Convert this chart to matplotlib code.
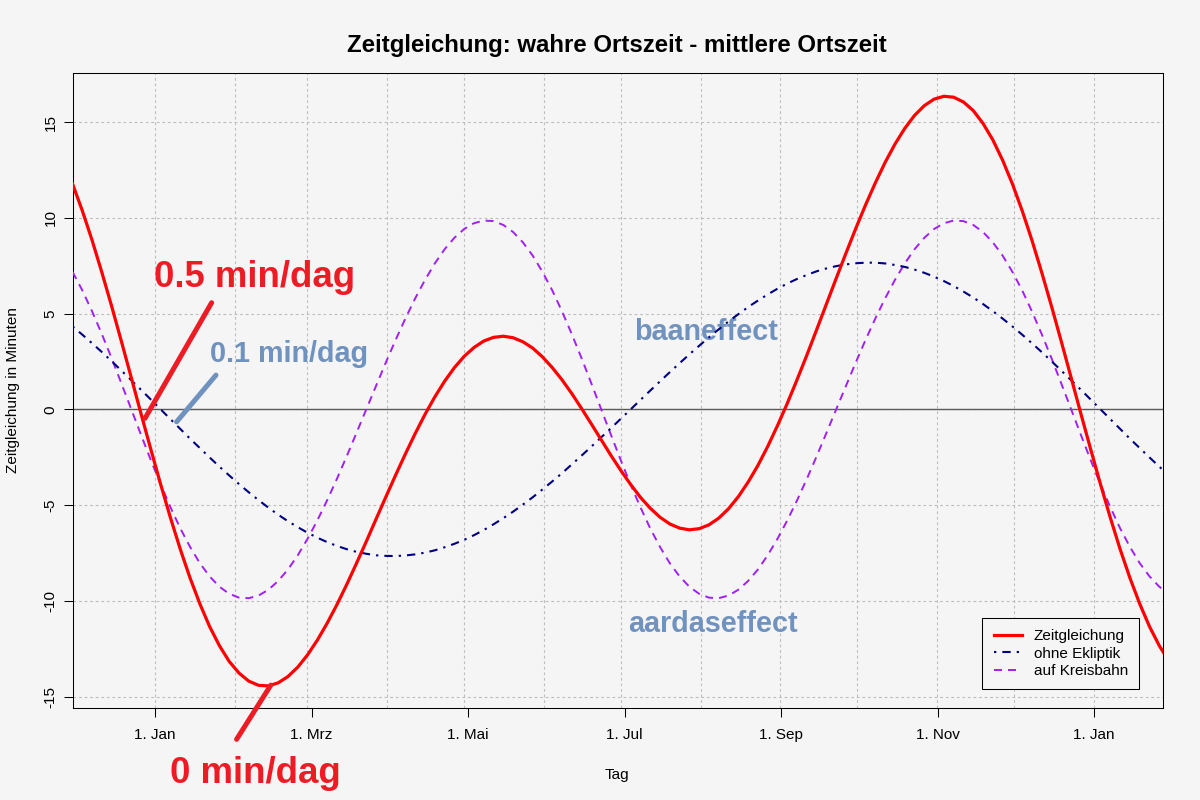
import matplotlib
matplotlib.use("Agg")
import matplotlib.pyplot as plt

plt.rcParams['font.family'] = ['Liberation Sans', 'DejaVu Sans']
plt.rcParams['axes.unicode_minus'] = False

tag = [-32.04, -28.24, -24.43, -20.63, -16.82, -13.02, -9.21, -5.41, -1.60,
       2.20, 6.00, 9.81, 13.61, 17.42, 21.22, 25.03, 28.83, 32.64, 36.44,
       40.25, 44.05, 47.86, 51.66, 55.47, 59.27, 63.08, 66.88, 70.68, 74.49,
       78.29, 82.10, 85.90, 89.71, 93.51, 97.32, 101.12, 104.93, 108.73, 112.54,
       116.34, 120.15, 123.95, 127.76, 131.56, 135.36, 139.17, 142.97, 146.78, 150.58,
       154.39, 158.19, 162.00, 165.80, 169.61, 173.41, 177.22, 181.02, 184.83, 188.63,
       192.44, 196.24, 200.04, 203.85, 207.65, 211.46, 215.26, 219.07, 222.87, 226.68,
       230.48, 234.29, 238.09, 241.90, 245.70, 249.51, 253.31, 257.12, 260.92, 264.72,
       268.53, 272.33, 276.14, 279.94, 283.75, 287.55, 291.36, 295.16, 298.97, 302.77,
       306.58, 310.38, 314.19, 317.99, 321.79, 325.60, 329.40, 333.21, 337.01, 340.82,
       344.62, 348.43, 352.23, 356.04, 359.84, 363.65, 367.45, 371.26, 375.06, 378.87,
       382.67, 386.48, 390.28, 394.08]

# Zeitgleichung (minutes)
zeitgleichung = [11.77, 10.37, 8.82, 7.14, 5.37, 3.53, 1.65, -0.24, -2.10,
                 -3.92, -5.66, -7.30, -8.80, -10.15, -11.34, -12.34, -13.16, -13.77, -14.19,
                 -14.41, -14.44, -14.28, -13.95, -13.46, -12.82, -12.05, -11.17, -10.20, -9.15,
                 -8.04, -6.90, -5.73, -4.57, -3.43, -2.32, -1.26, -0.26, 0.65, 1.47,
                 2.18, 2.77, 3.23, 3.57, 3.76, 3.82, 3.74, 3.53, 3.20, 2.74,
                 2.18, 1.54, 0.82, 0.04, -0.77, -1.59, -2.41, -3.19, -3.92, -4.59,
                 -5.16, -5.63, -5.98, -6.20, -6.29, -6.23, -6.03, -5.68, -5.19, -4.56,
                 -3.80, -2.93, -1.94, -0.85, 0.31, 1.55, 2.83, 4.16, 5.50, 6.84,
                 8.16, 9.45, 10.68, 11.83, 12.90, 13.85, 14.67, 15.35, 15.86, 16.20,
                 16.35, 16.30, 16.05, 15.60, 14.93, 14.07, 13.01, 11.77, 10.37, 8.82,
                 7.14, 5.37, 3.53, 1.65, -0.24, -2.10, -3.92, -5.66, -7.30, -8.80,
                 -10.15, -11.34, -12.34, -13.16]

# ohne Ekliptik (only the elliptical orbit)
ohne_ekliptik = [4.33, 3.90, 3.45, 2.99, 2.51, 2.02, 1.52, 1.02, 0.51,
                 0.00, -0.51, -1.02, -1.53, -2.02, -2.51, -2.99, -3.45, -3.90, -4.33,
                 -4.74, -5.13, -5.50, -5.84, -6.15, -6.44, -6.70, -6.93, -7.13, -7.30,
                 -7.44, -7.54, -7.62, -7.65, -7.66, -7.63, -7.57, -7.48, -7.36, -7.20,
                 -7.02, -6.81, -6.57, -6.30, -6.00, -5.68, -5.34, -4.97, -4.59, -4.18,
                 -3.76, -3.33, -2.87, -2.41, -1.94, -1.46, -0.98, -0.49, 0.00, 0.49,
                 0.98, 1.46, 1.94, 2.41, 2.87, 3.32, 3.76, 4.18, 4.59, 4.97,
                 5.34, 5.68, 6.00, 6.30, 6.57, 6.81, 7.02, 7.21, 7.36, 7.48,
                 7.57, 7.63, 7.66, 7.66, 7.62, 7.54, 7.44, 7.30, 7.13, 6.93,
                 6.70, 6.44, 6.15, 5.84, 5.50, 5.13, 4.74, 4.33, 3.90, 3.45,
                 2.99, 2.51, 2.02, 1.52, 1.02, 0.51, 0.00, -0.51, -1.02, -1.53,
                 -2.02, -2.51, -2.99, -3.45]

# auf Kreisbahn (only the tilted axis)
auf_kreisbahn = [7.18, 6.21, 5.11, 3.92, 2.66, 1.34, 0.00, -1.34, -2.66,
                 -3.92, -5.11, -6.21, -7.18, -8.03, -8.72, -9.26, -9.63, -9.83, -9.86,
                 -9.72, -9.42, -8.96, -8.36, -7.62, -6.76, -5.80, -4.75, -3.63, -2.45,
                 -1.23, 0.00, 1.23, 2.45, 3.63, 4.75, 5.80, 6.76, 7.62, 8.36,
                 8.96, 9.42, 9.72, 9.86, 9.83, 9.63, 9.26, 8.72, 8.03, 7.18,
                 6.21, 5.11, 3.92, 2.66, 1.34, 0.00, -1.34, -2.66, -3.92, -5.11,
                 -6.21, -7.18, -8.03, -8.72, -9.26, -9.63, -9.83, -9.86, -9.72, -9.42,
                 -8.96, -8.36, -7.62, -6.76, -5.80, -4.75, -3.63, -2.45, -1.23, 0.00,
                 1.23, 2.45, 3.63, 4.75, 5.80, 6.76, 7.62, 8.36, 8.96, 9.42,
                 9.72, 9.86, 9.83, 9.63, 9.26, 8.72, 8.03, 7.18, 6.21, 5.11,
                 3.92, 2.66, 1.34, 0.00, -1.34, -2.66, -3.92, -5.11, -6.21, -7.18,
                 -8.03, -8.72, -9.26, -9.63]

# axis labels: ticks every sixth of a year, grid at the month starts
tick_pos = [0, 365 / 6, 2 * 365 / 6, 3 * 365 / 6, 4 * 365 / 6, 5 * 365 / 6, 365]
tick_lab = ['1. Jan', '1. Mrz', '1. Mai', '1. Jul', '1. Sep', '1. Nov', '1. Jan']
monat_start = [0, 31, 59, 90, 120, 151, 181, 212, 243, 273, 304, 334, 365]
y_ticks = [-15, -10, -5, 0, 5, 10, 15]

bg = '#f5f5f5'
rot = '#ed1c24'
stahlblau = '#7092bf'

fig = plt.figure(figsize=(12, 8), dpi=100, facecolor=bg)
ax = fig.add_axes([0.0611, 0.1146, 0.9078, 0.7938], facecolor=bg)

# dotted grid
for m in monat_start:
    ax.axvline(m, color='#bebebe', lw=0.8, ls=(0, (2.5, 2.5)), zorder=1)
for v in y_ticks:
    ax.axhline(v, color='#bebebe', lw=0.8, ls=(0, (2.5, 2.5)), zorder=1)
ax.axhline(0, color='#5a5a5a', lw=1.0, zorder=2)

# the three curves
ax.plot(tag, zeitgleichung, color='red', lw=2.3, label='Zeitgleichung', zorder=5)
ax.plot(tag, ohne_ekliptik, color='#000080', lw=1.5, dashes=(1.1, 2.9, 4.0, 2.9),
        label='ohne Ekliptik', zorder=4)
ax.plot(tag, auf_kreisbahn, color='#a020f0', lw=1.4, dashes=(4.1, 3.1),
        label='auf Kreisbahn', zorder=3)

ax.set_xlim(-31.75, 391.6)
ax.set_ylim(-15.61, 17.55)

ax.set_xticks(tick_pos)
ax.set_xticklabels(tick_lab)
ax.set_yticks(y_ticks)
ax.set_yticklabels([str(v) for v in y_ticks])
ax.tick_params(axis='both', direction='out', length=6.8, width=0.75, labelsize=11, colors='black')
ax.tick_params(axis='x', pad=7.4)
ax.tick_params(axis='y', pad=4.5, labelrotation=90)
for lab in ax.get_yticklabels():
    lab.set_va('center')
for sp in ax.spines.values():
    sp.set_color('black')
    sp.set_linewidth(0.75)

# titles and axis labels
fig.text(0.514, 1 - 52.4 / 800, 'Zeitgleichung: wahre Ortszeit - mittlere Ortszeit',
         ha='center', va='baseline', fontsize=17.3, fontweight='bold')
fig.text(0.514, 1 - 779.3 / 800, 'Tag', ha='center', va='baseline', fontsize=11)
fig.text(0.0107, 0.5125, 'Zeitgleichung in Minuten', rotation=90,
         ha='center', va='center', fontsize=11)

# slope annotations
ax.plot([-3.9, 22.0], [-0.47, 5.57], color=rot, lw=3.6, solid_capstyle='round', zorder=6)
ax.text(-0.4, 6.40, '0.5 min/dag', color=rot, fontsize=26.4, fontweight='bold', va='baseline')
ax.plot([8.4, 23.7], [-0.65, 1.79], color=stahlblau, lw=3.6, solid_capstyle='round', zorder=6)
ax.text(21.4, 2.49, '0.1 min/dag', color=stahlblau, fontsize=20.7, fontweight='bold', va='baseline')
ax.plot([31.7, 45.0], [-17.23, -14.40], color=rot, lw=3.6, solid_capstyle='round',
        clip_on=False, zorder=6)
ax.text(5.8, -19.53, '0 min/dag', color=rot, fontsize=26.4, fontweight='bold', va='baseline',
        clip_on=False)
ax.text(186.3, 3.62, 'baaneffect', color=stahlblau, fontsize=20.7, fontweight='bold', va='baseline')
ax.text(183.8, -11.63, 'aardaseffect', color=stahlblau, fontsize=20.7, fontweight='bold', va='baseline')

leg = ax.legend(loc='lower right', bbox_to_anchor=(0.9785, 0.0299), borderaxespad=0,
                fontsize=11, frameon=True, fancybox=False, edgecolor='black',
                facecolor=bg, framealpha=1, handlelength=1.85, handletextpad=0.75,
                borderpad=0.75, labelspacing=0.22)
leg.get_frame().set_linewidth(0.75)

fig.savefig('out.png', dpi=100, facecolor=bg)
